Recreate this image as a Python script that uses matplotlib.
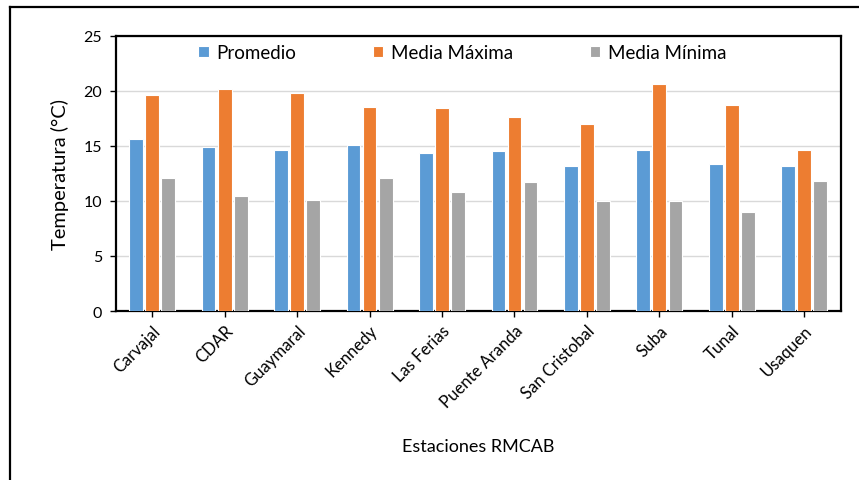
import matplotlib.pyplot as plt
import numpy as np
from matplotlib.lines import Line2D

plt.rcParams['font.family'] = ['Lato', 'DejaVu Sans']

estaciones = ['Carvajal', 'CDAR', 'Guaymaral', 'Kennedy', 'Las Ferias',
              'Puente Aranda', 'San Cristobal', 'Suba', 'Tunal', 'Usaquen']
promedio = [15.6, 14.9, 14.6, 15.1, 14.3, 14.5, 13.2, 14.6, 13.3, 13.2]
media_max = [19.6, 20.1, 19.8, 18.5, 18.4, 17.6, 17.0, 20.6, 18.7, 14.6]
media_min = [12.1, 10.4, 10.1, 12.1, 10.8, 11.7, 10.0, 10.0, 9.0, 11.8]

series = [('Promedio', promedio, '#5B9BD5'),
          ('Media Máxima', media_max, '#ED7D31'),
          ('Media Mínima', media_min, '#A5A5A5')]

fig = plt.figure(figsize=(8.59, 4.81), dpi=100)
W, H = 859, 481
ax = fig.add_axes([116 / W, 1 - 312 / H, (840.5 - 116) / W, (312 - 36.5) / H])

x = np.arange(len(estaciones))
step = 0.222
width = 0.19
for i, (name, vals, color) in enumerate(series):
    ax.bar(x + (i - 1) * step, vals, width, color=color, label=name,
           edgecolor='white', linewidth=0.8, zorder=3)

ax.set_xlim(-0.5, len(estaciones) - 0.5)
ax.set_ylim(0, 25)
ax.set_yticks(range(0, 26, 5))
ax.set_xticks(x)
ax.set_xticklabels(estaciones, rotation=45, ha='right', rotation_mode='anchor',
                   fontsize=12)
ax.tick_params(axis='y', labelsize=11.5, length=4, width=1, pad=6)
ax.tick_params(axis='x', length=4, width=1, pad=4)
ax.grid(axis='y', color='#D9D9D9', linewidth=1, zorder=0)
for s in ax.spines.values():
    s.set_linewidth(1.6)
    s.set_color('black')

ax.set_ylabel('Temperatura (°C)', fontsize=14.5, labelpad=10)
ax.set_xlabel('Estaciones RMCAB', fontsize=13, labelpad=20)

ax.legend(loc='upper center', bbox_to_anchor=(0.478, 1.03), ncol=3,
          frameon=False, fontsize=13.5, handlelength=0.55, handleheight=0.55,
          handletextpad=0.4, columnspacing=4.1)

# outer frame (only top and left are visible in the original)
fig.add_artist(Line2D([10 / W, 10 / W], [0, 1 - 8 / H], color='black',
                      linewidth=1.6, transform=fig.transFigure))
fig.add_artist(Line2D([10 / W, 1], [1 - 8 / H, 1 - 8 / H], color='black',
                      linewidth=1.6, transform=fig.transFigure))

fig.savefig('out.png', dpi=100)
